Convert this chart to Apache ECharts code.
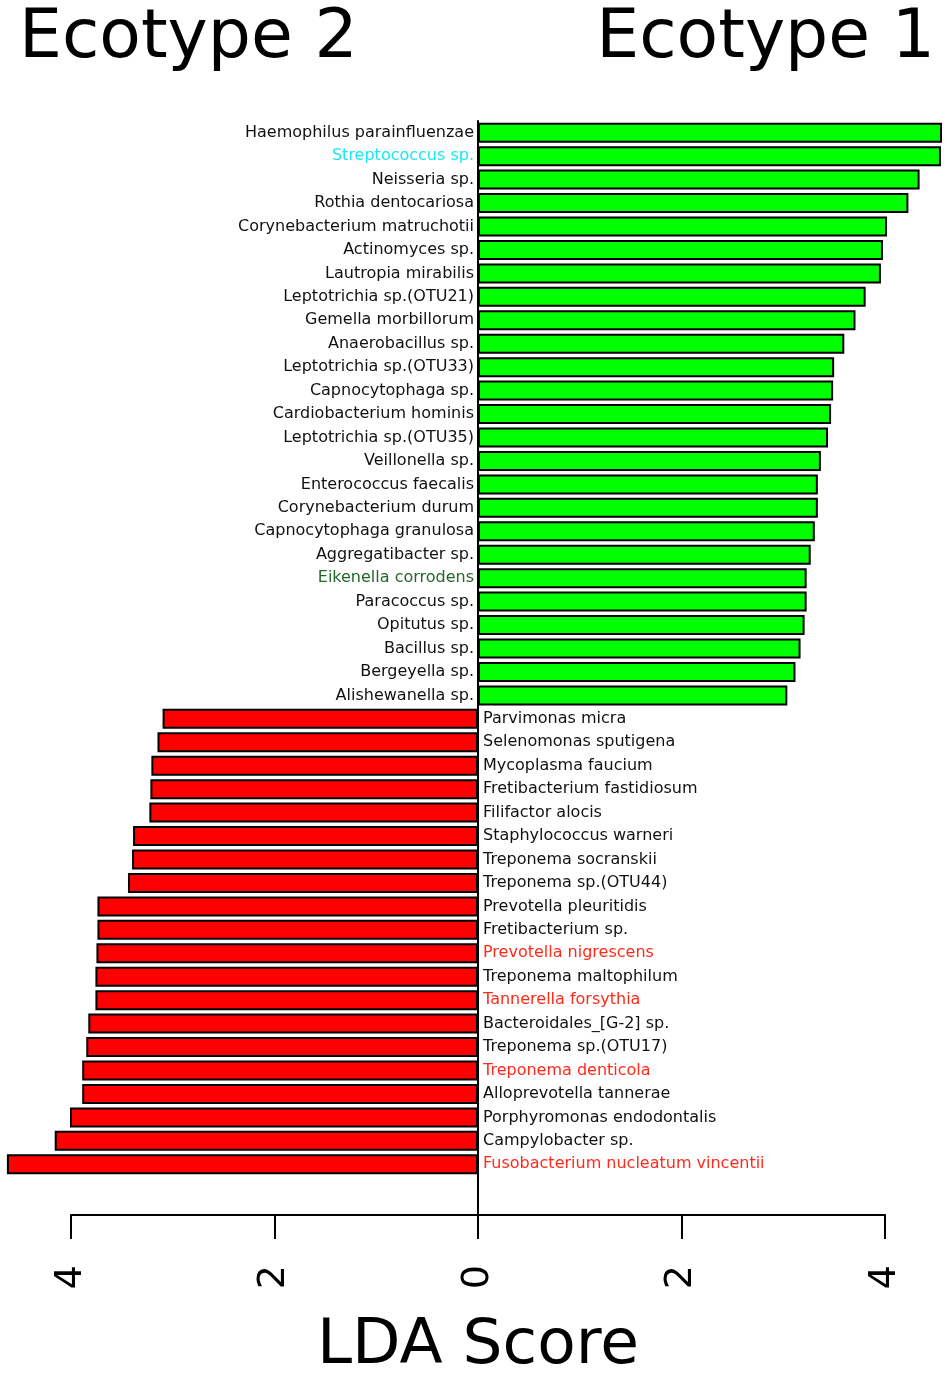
<!DOCTYPE html>
<html>
<head>
<meta charset="utf-8">
<script src="https://cdn.jsdelivr.net/npm/echarts@6/dist/echarts.min.js"></script>
<style>
  html, body { margin: 0; padding: 0; background: #fff; }
  #chart { width: 950px; height: 1373px; }
</style>
</head>
<body>
<div id="chart"></div>
<script>
// Ecotype 1 (green, positive LDA)
var eco1Names = ['Haemophilus parainfluenzae', 'Streptococcus sp.', 'Neisseria sp.', 'Rothia dentocariosa',
    'Corynebacterium matruchotii', 'Actinomyces sp.', 'Lautropia mirabilis', 'Leptotrichia sp.(OTU21)',
    'Gemella morbillorum', 'Anaerobacillus sp.', 'Leptotrichia sp.(OTU33)', 'Capnocytophaga sp.',
    'Cardiobacterium hominis', 'Leptotrichia sp.(OTU35)', 'Veillonella sp.', 'Enterococcus faecalis',
    'Corynebacterium durum', 'Capnocytophaga granulosa', 'Aggregatibacter sp.', 'Eikenella corrodens',
    'Paracoccus sp.', 'Opitutus sp.', 'Bacillus sp.', 'Bergeyella sp.', 'Alishewanella sp.'];
var eco1Scores = [4.56, 4.55, 4.34, 4.23, 4.02, 3.98, 3.96, 3.81, 3.71, 3.60, 3.50, 3.49, 3.47,
    3.44, 3.37, 3.34, 3.34, 3.31, 3.27, 3.23, 3.23, 3.21, 3.17, 3.12, 3.04];

// Ecotype 2 (red, negative LDA)
var eco2Names = ['Parvimonas micra', 'Selenomonas sputigena', 'Mycoplasma faucium', 'Fretibacterium fastidiosum',
    'Filifactor alocis', 'Staphylococcus warneri', 'Treponema socranskii', 'Treponema sp.(OTU44)',
    'Prevotella pleuritidis', 'Fretibacterium sp.', 'Prevotella nigrescens', 'Treponema maltophilum',
    'Tannerella forsythia', 'Bacteroidales_[G-2] sp.', 'Treponema sp.(OTU17)', 'Treponema denticola',
    'Alloprevotella tannerae', 'Porphyromonas endodontalis', 'Campylobacter sp.', 'Fusobacterium nucleatum vincentii'];
var eco2Scores = [-3.10, -3.15, -3.21, -3.22, -3.23, -3.39, -3.40, -3.44, -3.74, -3.74, -3.75, -3.76,
    -3.76, -3.83, -3.85, -3.89, -3.89, -4.01, -4.16, -4.63];

// label colours that differ from black
var labelColors = {
    'Streptococcus sp.': '#19e6f5',
    'Eikenella corrodens': '#24662a',
    'Prevotella nigrescens': '#ff2a1a',
    'Tannerella forsythia': '#ff2a1a',
    'Treponema denticola': '#ff2a1a',
    'Fusobacterium nucleatum vincentii': '#ff2a1a'
};

var xTicks = [-4, -2, 0, 2, 4];

var names = eco1Names.concat(eco2Names);
var scores = eco1Scores.concat(eco2Scores);

var barData = scores.map(function (v, i) {
    var pos = v > 0;
    return {
        value: v,
        itemStyle: { color: pos ? '#00ff00' : '#ff0000' },
        label: {
            position: pos ? 'left' : 'right',
            distance: pos ? 4 : 5,
            color: labelColors[names[i]] || '#111'
        }
    };
});

var chart = echarts.init(document.getElementById('chart'));
var font = 'DejaVu Sans';

chart.setOption({
    backgroundColor: '#fff',
    animation: false,
    textStyle: { fontFamily: font },
    title: [
        { text: 'Ecotype 2', left: 14, top: 0,
          textStyle: { fontSize: 68, fontWeight: 'normal', color: '#000', fontFamily: font } },
        { text: 'Ecotype 1', right: 10, top: 0,
          textStyle: { fontSize: 68, fontWeight: 'normal', color: '#000', fontFamily: font } }
    ],
    grid: { left: 71, right: 65, top: 121, bottom: 197, outerBoundsMode: 'none', containLabel: false },
    xAxis: {
        type: 'value',
        min: xTicks[0],
        max: xTicks[xTicks.length - 1],
        interval: 2,
        offset: 39,
        name: 'LDA Score',
        nameLocation: 'middle',
        nameGap: 100,
        nameTextStyle: { fontSize: 63, color: '#000', fontFamily: font },
        axisLine: { show: true, lineStyle: { color: '#000', width: 2 } },
        axisTick: { show: true, length: 24, lineStyle: { color: '#000', width: 2 } },
        axisLabel: {
            rotate: 90,
            margin: 50,
            fontSize: 38,
            color: '#000',
            formatter: function (v) { return String(Math.abs(v)); }
        },
        splitLine: { show: false }
    },
    yAxis: {
        type: 'category',
        inverse: true,
        data: names,
        axisLine: { show: true, onZero: true, lineStyle: { color: '#000', width: 2 } },
        axisTick: { show: false },
        axisLabel: { show: false },
        splitLine: { show: false }
    },
    series: [{
        type: 'bar',
        data: barData,
        barWidth: 20,
        clip: false,
        itemStyle: { borderColor: '#000', borderWidth: 2 },
        label: {
            show: true,
            fontSize: 16,
            fontFamily: font,
            formatter: function (p) { return p.name; }
        }
    }]
});

// the zero line runs on down to the score axis
var x0 = chart.convertToPixel({ xAxisIndex: 0 }, 0);
chart.setOption({
    graphic: [{
        type: 'line',
        shape: { x1: x0, y1: 1373 - 197, x2: x0, y2: 1373 - 197 + 39 },
        style: { stroke: '#000', lineWidth: 2 }
    }]
});
</script>
</body>
</html>
